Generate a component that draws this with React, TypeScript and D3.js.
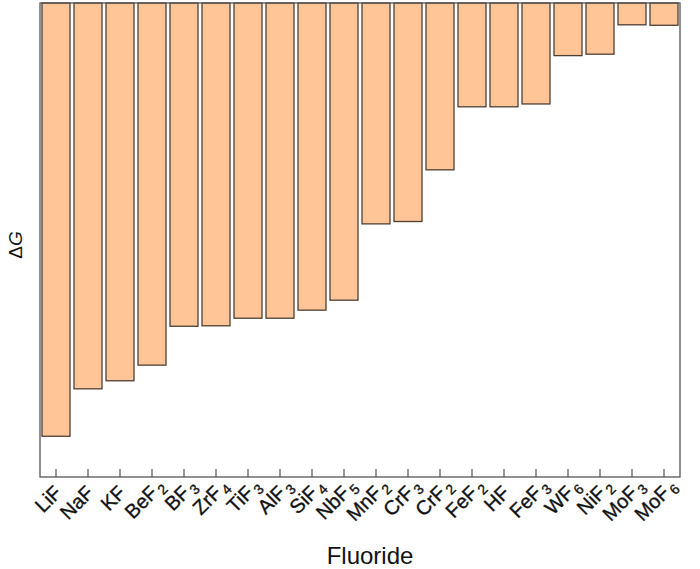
import React, { FC, useMemo } from "react";
import * as d3 from "d3";

// fluoride formulas (base + subscript) and relative ΔG (arbitrary units, 0 at top)
const fluorides = [
    "LiF", "NaF", "KF", "BeF", "BF", "ZrF", "TiF", "AlF", "SiF", "NbF",
    "MnF", "CrF", "CrF", "FeF", "HF", "FeF", "WF", "NiF", "MoF", "MoF",
];
const subscripts = [
    "", "", "", "2", "3", "4", "3", "3", "4", "5",
    "2", "3", "2", "2", "", "3", "6", "2", "3", "6",
];
const deltaG = [
    -91.4, -81.4, -79.7, -76.4, -68.2, -68.1, -66.5, -66.5, -64.8, -62.7,
    -46.6, -46.1, -35.2, -21.9, -21.9, -21.3, -11.1, -10.8, -4.6, -4.7,
];
const yDomain = [0, -100];

const font = "'Liberation Sans', Arial, sans-serif";

const App: FC = () => {
    const width = 700;
    const height = 569;
    const left = 40;
    const right = 680;
    const top = 3;
    const bottom = 477;

    const keys = useMemo(() => fluorides.map((f, i) => `${i}`), []);

    const x = useMemo(
        () =>
            d3
                .scaleBand<string>()
                .domain(keys)
                .range([left, right])
                .paddingInner(0.125)
                .paddingOuter(0.0625),
        [keys]
    );

    const y = useMemo(() => d3.scaleLinear().domain(yDomain).range([top, bottom]), []);

    return (
        <svg
            width={width}
            height={height}
            style={{ position: "absolute", top: 0, left: 0, background: "#fff" }}
            fontFamily={font}
        >
            {/* bars */}
            {deltaG.map((v, i) => (
                <rect
                    key={i}
                    x={x(keys[i])}
                    y={y(0)}
                    width={x.bandwidth()}
                    height={y(v) - y(0)}
                    fill="#FFC597"
                    stroke="#4d3f35"
                    strokeWidth={1.3}
                />
            ))}

            {/* frame */}
            <rect
                x={left}
                y={top}
                width={right - left}
                height={bottom - top}
                fill="none"
                stroke="#555"
                strokeWidth={1.3}
            />

            {/* ticks (inward) + labels */}
            {keys.map((k, i) => {
                const cx = (x(k) as number) + x.bandwidth() / 2;
                return (
                    <g key={k}>
                        <line x1={cx} x2={cx} y1={bottom} y2={bottom - 8} stroke="#555" strokeWidth={1.2} />
                        <g
                            transform={`translate(${cx + 7},${bottom + 17}) rotate(-45)`}
                            fill="#111"
                            stroke="#111"
                            strokeWidth={0.35}
                        >
                            <text textAnchor="end" fontSize={20}>
                                {fluorides[i]}
                            </text>
                            {subscripts[i] && (
                                <text x={2} y={4} fontSize={14}>
                                    {subscripts[i]}
                                </text>
                            )}
                        </g>
                    </g>
                );
            })}

            {/* axis titles */}
            <text x={370} y={564} textAnchor="middle" fontSize={24} fill="#111">
                Fluoride
            </text>
            <text
                transform={`translate(22,${(top + bottom) / 2 + 5}) rotate(-90)`}
                textAnchor="middle"
                fontSize={19}
                fill="#111"
            >
                Δ<tspan fontStyle="italic">G</tspan>
            </text>
        </svg>
    );
};

export default App;
